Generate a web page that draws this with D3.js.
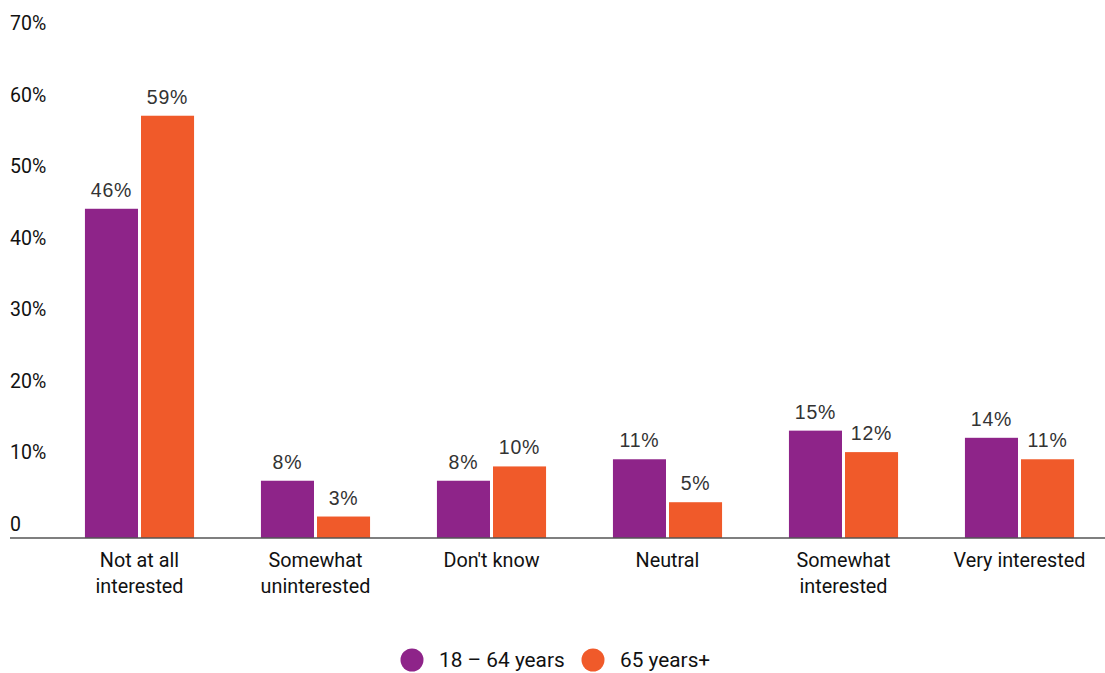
<!DOCTYPE html>
<html>
<head>
<meta charset="utf-8">
<script src="https://cdn.jsdelivr.net/npm/d3@7"></script>
<style>
html,body{margin:0;padding:0;background:#fff;}
svg{display:block;}
</style>
</head>
<body>
<svg id="chart" width="1105" height="673"></svg>
<script>
const categories = [["Not at all","interested"],["Somewhat","uninterested"],["Don't know"],["Neutral"],["Somewhat","interested"],["Very interested"]];
const categoryKeys = ["Not at all interested","Somewhat uninterested","Don't know","Neutral","Somewhat interested","Very interested"];
const seriesNames = ["18 – 64 years","65 years+"];
const seriesYoung = [46, 8, 8, 11, 15, 14];
const seriesOld = [59, 3, 10, 5, 12, 11];
const tickValues = [0,10,20,30,40,50,60,70];
const tickLabels = ["0","10%","20%","30%","40%","50%","60%","70%"];
const colors = ["#8E2489","#F05A2A"];

const svg = d3.select("#chart");
const y = d3.scaleLinear().domain([0,70]).range([538,37]);
const x0 = d3.scaleBand().domain(categoryKeys).range([51.5,1107.5]).paddingInner(0.38).paddingOuter(0.19);
const x1 = d3.scaleBand().domain(seriesNames).range([0,x0.bandwidth()]).paddingInner(3/56);

// y tick labels
svg.append("g").selectAll("text").data(tickValues).join("text")
  .attr("x",10).attr("y",d=>y(d)-7)
  .attr("font-family","Roboto").attr("font-size",19.5).attr("fill","#111")
  .text((d,i)=>tickLabels[i]);

const data = categoryKeys.map((k,i)=>({key:k, vals:[seriesYoung[i], seriesOld[i]]}));

const groups = svg.append("g").selectAll("g").data(data).join("g")
  .attr("transform",d=>`translate(${x0(d.key)},0)`);

groups.selectAll("rect").data(d=>d.vals.map((v,j)=>({s:seriesNames[j],v,j}))).join("rect")
  .attr("x",d=>x1(d.s)).attr("width",x1.bandwidth())
  .attr("y",d=>y(d.v)).attr("height",d=>y(0)-y(d.v))
  .attr("fill",d=>colors[d.j]);

groups.selectAll("text.val").data(d=>d.vals.map((v,j)=>({s:seriesNames[j],v,j}))).join("text")
  .attr("class","val")
  .attr("x",d=>x1(d.s)+x1.bandwidth()/2).attr("y",d=>y(d.v)-12)
  .attr("text-anchor","middle")
  .attr("font-family","Liberation Sans, Arial").attr("font-size",19.5).attr("letter-spacing",0.8).attr("fill","#333")
  .text(d=>d.v+"%");

// axis line
svg.append("line").attr("x1",10).attr("x2",1105).attr("y1",y(0)).attr("y2",y(0))
  .attr("stroke","#555").attr("stroke-width",1.6);

// category labels
const catG = svg.append("g").selectAll("text").data(categoryKeys).join("text")
  .attr("x",d=>x0(d)+x0.bandwidth()/2).attr("y",567)
  .attr("text-anchor","middle")
  .attr("font-family","Roboto").attr("font-size",19.8).attr("fill","#111");
catG.each(function(d,i){
  const t = d3.select(this);
  categories[i].forEach((line,li)=>{
    t.append("tspan").attr("x",x0(d)+x0.bandwidth()/2).attr("dy",li===0?0:26).text(line);
  });
});

// legend
const legend = svg.append("g");
const legendX = [412, 593];
seriesNames.forEach((s,i)=>{
  legend.append("circle").attr("cx",legendX[i]).attr("cy",660).attr("r",11.5).attr("fill",colors[i]);
  legend.append("text").attr("x",legendX[i]+27).attr("y",667)
    .attr("font-family","Roboto").attr("font-size",20.8).attr("fill","#111").text(s);
});
</script>
</body>
</html>
